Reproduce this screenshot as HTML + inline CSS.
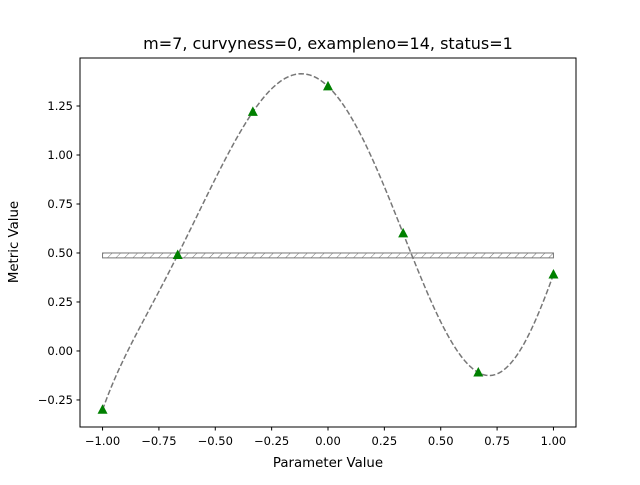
<!DOCTYPE html>
<html><head><meta charset="utf-8"><style>
body{margin:0;background:#fff}
svg text{font-family:"DejaVu Sans","Liberation Sans",sans-serif}
</style></head><body>
<svg id="chart" width="640" height="480" xmlns="http://www.w3.org/2000/svg">
<defs><pattern id="hatch" width="6" height="6" patternUnits="userSpaceOnUse" patternTransform="rotate(45)"><line x1="0" y1="0" x2="0" y2="6" stroke="#777" stroke-width="1"/></pattern></defs>
<rect width="640" height="480" fill="#fff"/>
<text x="328" y="49" text-anchor="middle" fill="#000" style="font-size:16px">m=7, curvyness=0, exampleno=14, status=1</text>
<g id="plot"></g>
<rect x="80" y="58" width="496" height="369" fill="none" stroke="#000" stroke-width="1"/>
<text x="328" y="467" font-size="13.33" text-anchor="middle">Parameter Value</text>
<text x="18" y="242" font-size="13.33" text-anchor="middle" transform="rotate(-90 18 242)">Metric Value</text>
</svg>
<script>
const xData=[-1,-2/3,-1/3,0,1/3,2/3,1];
const yData=[-0.30,0.49,1.22,1.35,0.60,-0.11,0.39];
const xTicks=[-1,-0.75,-0.5,-0.25,0,0.25,0.5,0.75,1];
const yTicks=[-0.25,0,0.25,0.5,0.75,1,1.25];
const band=[0.475,0.50];
const L=80,R=576,T=58,B=427,xmin=-1.1,xmax=1.1,ymin=-0.388,ymax=1.495;
const sx=v=>L+(v-xmin)/(xmax-xmin)*(R-L);
const sy=v=>B-(v-ymin)/(ymax-ymin)*(B-T);
const NS="http://www.w3.org/2000/svg";
const svg=document.getElementById('chart');
const g=document.getElementById('plot');
function mk(t,a,p){const e=document.createElementNS(NS,t);for(const k in a)e.setAttribute(k,a[k]);(p||g).appendChild(e);return e;}
const fmt=v=>(v<0?'\u2212':'')+Math.abs(v).toFixed(2);
let r=mk('rect',{x:sx(-1),y:sy(band[1]),width:sx(1)-sx(-1),height:sy(band[0])-sy(band[1]),fill:'url(#hatch)',stroke:'#777'});


function lag(x){let s=0;for(let i=0;i<xData.length;i++){let p=yData[i];for(let j=0;j<xData.length;j++)if(j!==i)p*=(x-xData[j])/(xData[i]-xData[j]);s+=p;}return s;}
let d='';for(let k=0;k<=200;k++){const x=-1+2*k/200;d+=(k?'L':'M')+sx(x).toFixed(2)+','+sy(lag(x)).toFixed(2);}
let c=mk('path',{d:d,fill:'none',stroke:'#777','stroke-width':1.5,'stroke-dasharray':'5.5,2.4'});


xData.forEach((x,i)=>{const X=sx(x),Y=sy(yData[i]);
const m=mk('polygon',{points:`${X},${Y-5.5} ${X-5},${Y+4} ${X+5},${Y+4}`,fill:'green'});

});
xTicks.forEach(v=>{const X=sx(v);
mk('line',{x1:X,x2:X,y1:B,y2:B+3.5,stroke:'#000'},svg);
const t=mk('text',{x:X,y:B+18,'font-size':11.5,'text-anchor':'middle'},svg);t.textContent=fmt(v);

});
yTicks.forEach(v=>{const Y=sy(v);
mk('line',{x1:L,x2:L-3.5,y1:Y,y2:Y,stroke:'#000'},svg);
const t=mk('text',{x:L-7,y:Y+4,'font-size':11.5,'text-anchor':'end'},svg);t.textContent=fmt(v);

});
</script>
</body></html>
